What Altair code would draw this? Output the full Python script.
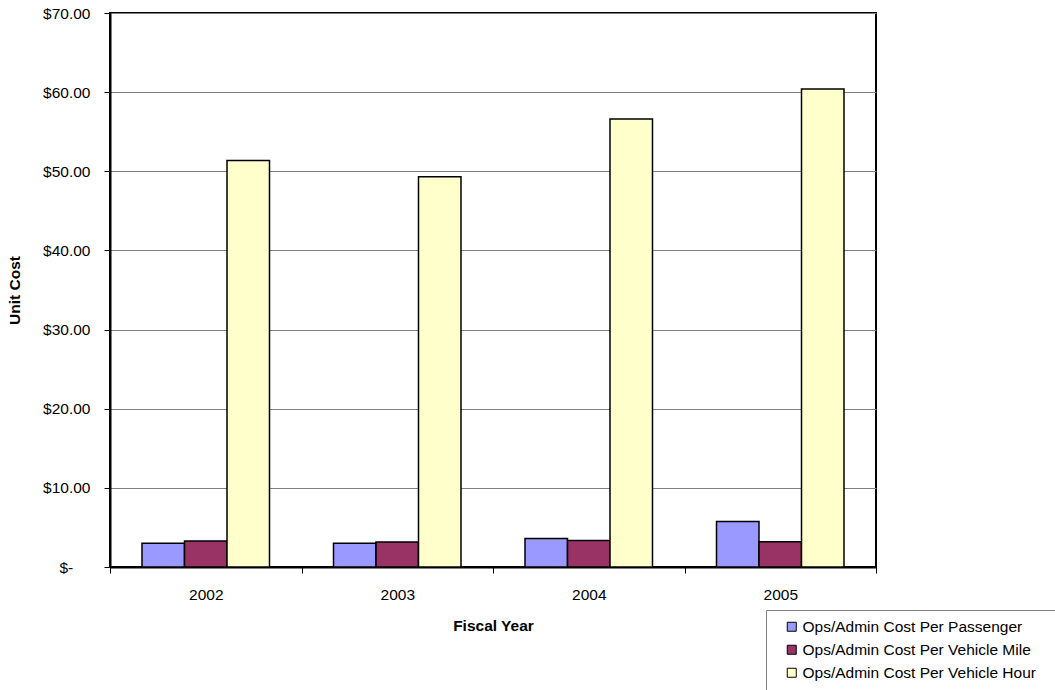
import altair as alt
import pandas as pd

# Fiscal years on the category axis
years = ["2002", "2003", "2004", "2005"]

# Series names, in legend / bar order
series = [
    "Ops/Admin Cost Per Passenger",
    "Ops/Admin Cost Per Vehicle Mile",
    "Ops/Admin Cost Per Vehicle Hour",
]

# Unit costs in dollars, one value per fiscal year
cost_per_passenger = [3.00, 3.00, 3.60, 5.75]
cost_per_vehicle_mile = [3.30, 3.15, 3.35, 3.20]
cost_per_vehicle_hour = [51.35, 49.30, 56.60, 60.40]

series_colors = ["#9999FF", "#993366", "#FFFFCC"]
y_tick_values = [0, 10, 20, 30, 40, 50, 60, 70]

rows = []
for name, values in zip(series, [cost_per_passenger, cost_per_vehicle_mile, cost_per_vehicle_hour]):
    for year, value in zip(years, values):
        rows.append({"Year": year, "Series": name, "Cost": value})
df = pd.DataFrame(rows)

FONT = "Liberation Sans"
FS = 15.5

# accounting-style zero: "$-" padded with figure spaces (closed by a zero-width
# space so the padding is not trimmed) so it sits left of the digit columns
zero_label = "$-" + "\u2007" * 2 + "\u200b"
y_label_expr = f"datum.value == 0 ? '{zero_label}' : '$' + format(datum.value, '.2f')"

# a little trailing room inside the legend box
legend_label_expr = "datum.label + '" + "\u2007" * 2 + "\u200b'"

chart = (
    alt.Chart(df)
    .mark_bar(stroke="black", strokeWidth=1.5)
    .encode(
        x=alt.X(
            "Year:N",
            title="Fiscal Year",
            sort=years,
            scale=alt.Scale(paddingInner=0, paddingOuter=0),
            axis=alt.Axis(
                labelAngle=0,
                tickBand="extent",
                tickSize=6,
                tickColor="black",
                tickWidth=1,
                domainColor="black",
                domainWidth=2,
                labelFont=FONT,
                labelFontSize=FS,
                labelColor="black",
                labelPadding=14,
                titleFont=FONT,
                titleFontSize=FS,
                titleFontWeight="bold",
                titleColor="black",
                titlePadding=16,
            ),
        ),
        xOffset=alt.XOffset(
            "Series:N", sort=series, scale=alt.Scale(paddingInner=0, paddingOuter=0.753)
        ),
        y=alt.Y(
            "Cost:Q",
            title="Unit Cost",
            scale=alt.Scale(domain=[0, 70], nice=False),
            axis=alt.Axis(
                values=y_tick_values,
                labelExpr=y_label_expr,
                grid=True,
                gridColor="#808080",
                gridWidth=1,
                tickSize=6,
                tickColor="black",
                tickWidth=1,
                domainColor="black",
                domainWidth=2,
                labelFont=FONT,
                labelFontSize=FS,
                labelColor="black",
                labelPadding=14,
                titleFont=FONT,
                titleFontSize=FS,
                titleFontWeight="bold",
                titleColor="black",
                titlePadding=20,
            ),
        ),
        color=alt.Color(
            "Series:N",
            sort=series,
            scale=alt.Scale(domain=series, range=series_colors),
            legend=alt.Legend(
                title=None,
                orient="none",
                legendX=656,
                legendY=597,
                strokeColor="#808080",
                fillColor="white",
                padding=9,
                symbolType="square",
                symbolSize=81,
                symbolStrokeColor="black",
                symbolStrokeWidth=1,
                symbolOffset=9,
                labelOffset=3,
                labelExpr=legend_label_expr,
                labelFont=FONT,
                labelFontSize=FS,
                labelColor="black",
                labelLimit=400,
                rowPadding=6,
            ),
        ),
    )
    .properties(
        width=766,
        height=554,
        padding={"left": 110, "top": 13, "right": 179, "bottom": 123},
        autosize=alt.AutoSizeParams(type="none"),
        background="white",
    )
    .configure_view(stroke="black", strokeWidth=2)
)

chart.save("out.html", embed_options={"renderer": "svg", "actions": False})
